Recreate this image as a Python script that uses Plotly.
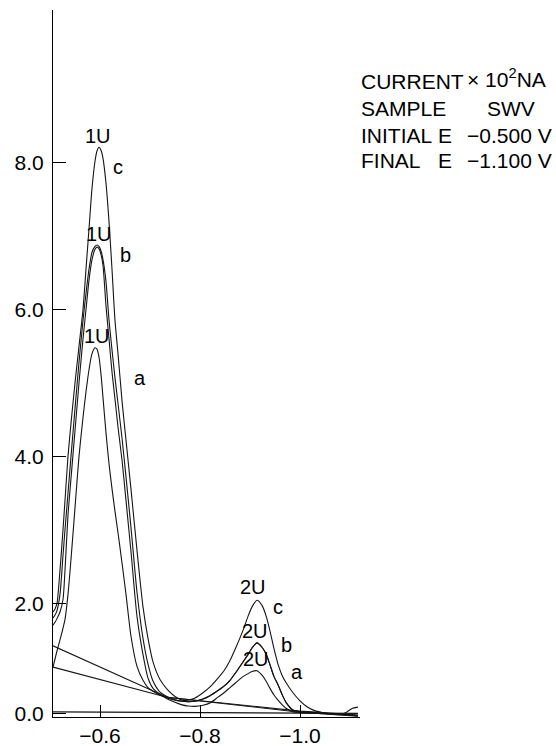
import plotly.graph_objects as go

# ---------------- data ----------------
# potential grid, V
potential_V = [-0.506, -0.510, -0.514, -0.520, -0.526, -0.530, -0.536, -0.542, -0.550, -0.558,
               -0.566, -0.572, -0.578, -0.584, -0.590, -0.594, -0.598, -0.602, -0.606, -0.612,
               -0.618, -0.624, -0.630, -0.636, -0.644, -0.652, -0.662, -0.674, -0.686, -0.696,
               -0.706, -0.720, -0.734, -0.750, -0.764, -0.776, -0.790, -0.806, -0.820, -0.836,
               -0.848, -0.860, -0.872, -0.886, -0.896, -0.904, -0.914, -0.924, -0.932, -0.940,
               -0.948, -0.956, -0.964, -0.972, -0.986, -1.000, -1.014, -1.028, -1.050, -1.070,
               -1.084, -1.094, -1.104, -1.116]

# current (plotted units of the chart's y axis)
current_c = [1.88, 1.92, 2.00, 2.45, 3.00, 3.40, 4.00, 4.45, 5.00, 5.50,
             6.00, 6.55, 7.10, 7.65, 8.02, 8.16, 8.21, 8.17, 8.06, 7.72,
             7.20, 6.55, 5.85, 5.40, 4.76, 4.22, 3.55, 2.72, 1.95, 1.52,
             1.20, 0.96, 0.83, 0.73, 0.68, 0.68, 0.71, 0.78, 0.86, 0.98,
             1.08, 1.22, 1.40, 1.63, 1.82, 1.95, 2.04, 1.97, 1.83, 1.62,
             1.38, 1.17, 1.02, 0.92, 0.78, 0.67, 0.59, 0.54, 0.505, 0.49,
             0.485, 0.52, 0.565, 0.585]

current_b = [1.80, 1.84, 1.90, 2.12, 2.65, 3.00, 3.50, 4.00, 4.65, 5.28,
             5.85, 6.22, 6.55, 6.78, 6.86, 6.88, 6.86, 6.80, 6.68, 6.38,
             5.86, 5.45, 5.07, 4.72, 4.25, 3.72, 3.03, 2.15, 1.52, 1.17,
             0.94, 0.79, 0.73, 0.685, 0.665, 0.66, 0.665, 0.695, 0.74, 0.81,
             0.87, 0.95, 1.06, 1.20, 1.30, 1.39, 1.46, 1.40, 1.31, 1.16,
             1.00, 0.89, 0.76, 0.65, 0.545, 0.52, 0.515, 0.51, 0.50, 0.49,
             0.485, 0.48, 0.475, 0.47]

current_b2 = [1.70, 1.74, 1.79, 1.88, 2.05, 2.45, 3.20, 3.70, 4.35, 5.00,
              5.60, 6.00, 6.40, 6.68, 6.82, 6.85, 6.83, 6.75, 6.60, 6.05,
              5.60, 5.15, 4.78, 4.40, 3.95, 3.40, 2.70, 1.82, 1.30, 0.98,
              0.84, 0.76, 0.71, 0.68, 0.665, 0.66, 0.665, 0.695, 0.74, 0.81,
              0.87, 0.95, 1.06, 1.20, 1.30, 1.39, 1.46, 1.40, 1.31, 1.16,
              1.00, 0.89, 0.76, 0.65, 0.545, 0.52, 0.515, 0.51, 0.50, 0.49,
              0.485, 0.48, 0.475, 0.47]

current_a = [1.13, 1.24, 1.35, 1.50, 1.66, 1.78, 2.12, 2.60, 3.30, 4.00,
             4.53, 4.88, 5.18, 5.40, 5.48, 5.46, 5.35, 5.12, 4.80, 4.32,
             3.90, 3.56, 3.25, 2.96, 2.55, 2.12, 1.55, 1.14, 0.95, 0.85,
             0.80, 0.75, 0.70, 0.65, 0.615, 0.60, 0.595, 0.61, 0.64, 0.72,
             0.78, 0.85, 0.92, 1.00, 1.04, 1.07, 1.08, 1.02, 0.94, 0.84,
             0.75, 0.68, 0.62, 0.57, 0.52, 0.51, 0.505, 0.50, 0.495, 0.485,
             0.48, 0.475, 0.47, 0.465]

# straight background (baseline) lines
baseline_V = [-0.506, -0.734, -1.000, -1.116]
baseline_1 = [1.42, 0.72, 0.53, 0.475]
baseline_2 = [1.13, 0.72, 0.515, 0.46]
baseline_flat = [0.52, 0.515, 0.505, 0.50]

y_tick_vals = [0.5, 2, 4, 6, 8]
y_tick_text = ["0.0", "2.0", "4.0", "6.0", "8.0"]
x_tick_vals = [-0.6, -0.8, -1.0]
x_tick_text = ["\u22120.6", "\u22120.8", "\u22121.0"]

curve_names = ["c", "b", "b", "a"]

# ---------------- figure ----------------
W, H = 556, 746
L, R, T, B = 53, 196, 10, 29
FONT = "Liberation Sans, Arial, Helvetica, sans-serif"
LINE = dict(color="#151515", width=1.1)

fig = go.Figure()
curves = [current_c, current_b, current_b2, current_a]
for name, ys in zip(curve_names, curves):
    fig.add_trace(go.Scatter(x=potential_V, y=ys, mode="lines", name=name,
                             line=dict(shape="spline", smoothing=0.7, **LINE),
                             showlegend=False, hoverinfo="skip"))
for ys in (baseline_1, baseline_2, baseline_flat):
    fig.add_trace(go.Scatter(x=baseline_V, y=ys, mode="lines", line=LINE,
                             showlegend=False, hoverinfo="skip"))

annotations = []


def peak(ys, first=True):
    idx = [i for i, e in enumerate(potential_V) if (e > -0.75) == first]
    j = max(idx, key=lambda i: ys[i])
    return potential_V[j], ys[j]


def lab(text, xy, dx, dy):
    annotations.append(dict(x=xy[0], y=xy[1], xref="x", yref="y", text=text,
                            showarrow=False, xanchor="center", yanchor="middle",
                            xshift=dx, yshift=dy,
                            font=dict(family=FONT, size=20, color="black")))


pc1, pb1, pa1 = peak(current_c), peak(current_b), peak(current_a)
pc2, pb2, pa2 = peak(current_c, False), peak(current_b, False), peak(current_a, False)
lab("1U", pc1, -1, 11); lab("c", pc1, 19, -20)
lab("1U", pb1, 2, 11); lab("b", pb1, 28, -10)
lab("1U", pa1, 2, 12); lab("a", pa1, 45, -30)
lab("2U", pc2, -4, 13); lab("c", pc2, 21, -7)
lab("2U", pb2, -2, 12); lab("b", pb2, 29, -2)
lab("2U", pa2, -1, 12); lab("a", pa2, 40, -1)

# instrument legend block (paper coords from pixel positions)
pw, ph = W - L - R, H - T - B


def info(text, px, py):
    annotations.append(dict(x=(px - L) / pw, y=(H - B - py) / ph, xref="paper", yref="paper",
                            text=text, showarrow=False, xanchor="left", yanchor="middle",
                            font=dict(family=FONT, size=21, color="black")))


info("CURRENT", 359, 81); info("\u00d7 10<sup>2</sup>NA", 465, 78)
info("SAMPLE", 359, 109); info("SWV", 485, 109)
info("INITIAL", 359, 135); info("E", 436, 135); info("\u22120.500 V", 465, 135)
info("FINAL", 359, 160); info("E", 436, 160); info("\u22121.100 V", 465, 160)

fig.update_layout(
    width=W, height=H, margin=dict(l=L, r=R, t=T, b=B, autoexpand=False),
    paper_bgcolor="white", plot_bgcolor="white",
    font=dict(family=FONT, size=21, color="black"),
    annotations=annotations,
    xaxis=dict(range=[-0.506, -1.12], showgrid=False, zeroline=False,
               showline=True, linecolor="black", linewidth=1,
               ticks="inside", ticklen=12, tickcolor="black",
               tickvals=x_tick_vals, ticktext=x_tick_text,
               tickfont=dict(family=FONT, size=21), automargin=False),
    yaxis=dict(range=[0.45, 10.08], showgrid=False, zeroline=False,
               showline=True, linecolor="black", linewidth=1,
               ticks="inside", ticklen=13, tickcolor="black",
               tickvals=y_tick_vals, ticktext=y_tick_text, ticklabelstandoff=4,
               tickfont=dict(family=FONT, size=21), automargin=False),
)

fig.write_html("out.html", config={"displayModeBar": False},
               post_script="document.body.style.margin='0';document.body.style.overflow='hidden';")
